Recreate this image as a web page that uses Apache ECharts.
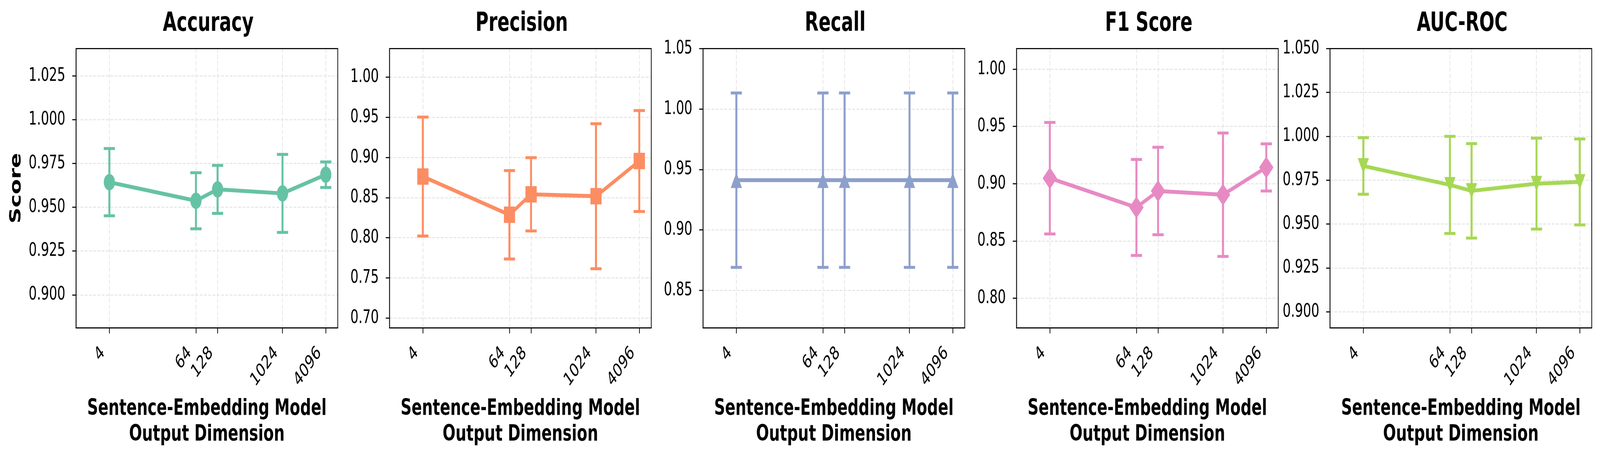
<!DOCTYPE html>
<html>
<head>
<meta charset="utf-8">
<script src="https://cdn.jsdelivr.net/npm/echarts@6/dist/echarts.min.js"></script>
<style>
html,body{margin:0;padding:0;background:#fff;overflow:hidden;}
#wrap{width:6002px;height:1170px;transform-origin:0 0;}
#chart{width:6002px;height:1170px;}
</style>
</head>
<body>
<div id="wrap"><div id="chart"></div></div>
<script>
// ---- data ----
const dims = [4, 64, 128, 1024, 4096];
const dimTicks = [4, 64, 128, 1024, 4096];

const accuracyMean = [0.9643, 0.9537, 0.9602, 0.9579, 0.9686];
const accuracyErr  = [0.0192, 0.0160, 0.0137, 0.0223, 0.0073];
const precisionMean = [0.8762, 0.8286, 0.8541, 0.8517, 0.8955];
const precisionErr  = [0.0741, 0.0550, 0.0456, 0.0903, 0.0629];
const recallMean = [0.9412, 0.9412, 0.9412, 0.9412, 0.9412];
const recallErr  = [0.0721, 0.0721, 0.0721, 0.0721, 0.0721];
const f1Mean = [0.9048, 0.8793, 0.8936, 0.8904, 0.9142];
const f1Err  = [0.0487, 0.0419, 0.0382, 0.0539, 0.0206];
const aucMean = [0.9831, 0.9723, 0.9689, 0.9730, 0.9740];
const aucErr  = [0.0161, 0.0277, 0.0269, 0.0259, 0.0245];

const accuracyTicks  = [0.900, 0.925, 0.950, 0.975, 1.000, 1.025];
const precisionTicks = [0.70, 0.75, 0.80, 0.85, 0.90, 0.95, 1.00];
const recallTicks    = [0.85, 0.90, 0.95, 1.00, 1.05];
const f1Ticks        = [0.80, 0.85, 0.90, 0.95, 1.00];
const aucTicks       = [0.900, 0.925, 0.950, 0.975, 1.000, 1.025, 1.050];

const accuracyRange  = [0.8811, 1.0406];
const precisionRange = [0.6877, 1.0356];
const recallRange    = [0.819, 1.05];
const f1Range        = [0.7741, 1.018];
const aucRange       = [0.8908, 1.05];
const xRange = [1.373, 6010];

const titles = ['Accuracy', 'Precision', 'Recall', 'F1 Score', 'AUC-ROC'];
const colors = ['#66c2a5', '#fc8d62', '#8da0cb', '#e78ac3', '#a6d854'];

// ---- fit the 6002px design into the real viewport width ----
const DESIGN_W = 6002;
const sx = Math.min(1, (window.innerWidth || DESIGN_W) / DESIGN_W);
if (sx < 1) document.getElementById('wrap').style.transform = 'scaleX(' + sx + ')';

// ---- build ----
const metrics = [
  {mean: accuracyMean, err: accuracyErr, ticks: accuracyTicks, range: accuracyRange, dec: 3, symbol: 'circle', size: 42, rot: 0},
  {mean: precisionMean, err: precisionErr, ticks: precisionTicks, range: precisionRange, dec: 2, symbol: 'rect', size: 42, rot: 0},
  {mean: recallMean, err: recallErr, ticks: recallTicks, range: recallRange, dec: 2, symbol: 'triangle', size: [42, 40], rot: 0},
  {mean: f1Mean, err: f1Err, ticks: f1Ticks, range: f1Range, dec: 2, symbol: 'diamond', size: [54, 56], rot: 0},
  {mean: aucMean, err: aucErr, ticks: aucTicks, range: aucRange, dec: 3, symbol: 'triangle', size: [42, 40], rot: 180}
];

const FONT = 'DejaVu Sans';
const gridLeft0 = 285, gridStep = 1176, gridW = 982, gridTop = 124.3, gridH = 715.2;
const gridStyle = {color: '#e4e4e4', width: 2.6, type: [11, 5]};

const option = {
  animation: false,
  backgroundColor: '#fff',
  textStyle: {fontFamily: FONT},
  title: [], grid: [], xAxis: [], yAxis: [], series: []
};

metrics.forEach((m, i) => {
  const left = gridLeft0 + i * gridStep;
  option.title.push({
    text: titles[i], left: left + gridW / 2, top: 18, textAlign: 'center',
    textStyle: {fontFamily: FONT, fontSize: 67, fontWeight: 'bold', color: '#000', lineHeight: 78}
  });
  option.grid.push({
    left: left, top: gridTop, width: gridW, height: gridH, z: 1,
    show: true, borderColor: '#000', borderWidth: 2.7, backgroundColor: 'transparent',
    outerBoundsMode: 'none', containLabel: false
  });
  option.xAxis.push({
    type: 'log', logBase: 2, gridIndex: i, min: xRange[0], max: xRange[1],
    name: 'Sentence-Embedding Model\nOutput Dimension', nameLocation: 'middle', nameGap: 152,
    nameTextStyle: {fontFamily: FONT, fontSize: 57, fontWeight: 'bold', color: '#000', lineHeight: 66},
    axisLine: {show: true, lineStyle: {color: '#000', width: 2.7}},
    axisTick: {show: true, inside: false, length: 14, lineStyle: {color: '#000', width: 2.7}, customValues: dimTicks},
    axisLabel: {show: true, customValues: dimTicks, rotate: 45, margin: 81, verticalAlign: 'bottom', lineHeight: 69,
      fontFamily: FONT, fontSize: 48, color: '#000', hideOverlap: false, formatter: v => String(Math.round(v))},
    splitLine: {show: true, lineStyle: gridStyle},
    minorTick: {show: false}, minorSplitLine: {show: false}
  });
  option.yAxis.push({
    type: 'value', gridIndex: i, min: m.range[0], max: m.range[1],
    name: i === 0 ? 'Score' : '', nameLocation: 'middle', nameGap: 190,
    nameTextStyle: {fontFamily: FONT, fontSize: 57, fontWeight: 'bold', color: '#000', lineHeight: 66},
    axisLine: {show: true, lineStyle: {color: '#000', width: 2.7}},
    axisTick: {show: true, inside: false, length: 14, lineStyle: {color: '#000', width: 2.7}, customValues: m.ticks},
    axisLabel: {show: true, customValues: m.ticks, margin: 40, fontFamily: FONT, fontSize: 48, color: '#000',
      formatter: v => Number(v).toFixed(m.dec)},
    splitLine: {show: true, lineStyle: gridStyle}
  });
  const pts = dims.map((d, k) => [d, m.mean[k], m.err[k]]);
  option.series.push({
    type: 'custom', xAxisIndex: i, yAxisIndex: i, z: 2, silent: true,
    data: pts,
    encode: {x: 0, y: 1},
    renderItem: (params, api) => {
      const x = api.value(0), y = api.value(1), e = api.value(2);
      const lo = api.coord([x, y - e]);
      const hi = api.coord([x, y + e]);
      const cap = 21;
      const st = {stroke: colors[i], lineWidth: 7.5, fill: null};
      return {type: 'group', children: [
        {type: 'line', shape: {x1: lo[0], y1: lo[1], x2: hi[0], y2: hi[1]}, style: st},
        {type: 'line', shape: {x1: lo[0] - cap, y1: lo[1], x2: lo[0] + cap, y2: lo[1]}, style: st},
        {type: 'line', shape: {x1: hi[0] - cap, y1: hi[1], x2: hi[0] + cap, y2: hi[1]}, style: st}
      ]};
    }
  });
  option.series.push({
    type: 'line', xAxisIndex: i, yAxisIndex: i, z: 3, silent: true,
    data: dims.map((d, k) => [d, m.mean[k]]),
    symbol: m.symbol, symbolSize: m.size, symbolRotate: m.rot, showAllSymbol: true,
    lineStyle: {color: colors[i], width: 10},
    itemStyle: {color: colors[i], borderWidth: 0},
    emphasis: {disabled: true}
  });
});

const chart = echarts.init(document.getElementById('chart'), null, {renderer: 'canvas', width: 6002, height: 1170});
chart.setOption(option);
</script>
</body>
</html>
